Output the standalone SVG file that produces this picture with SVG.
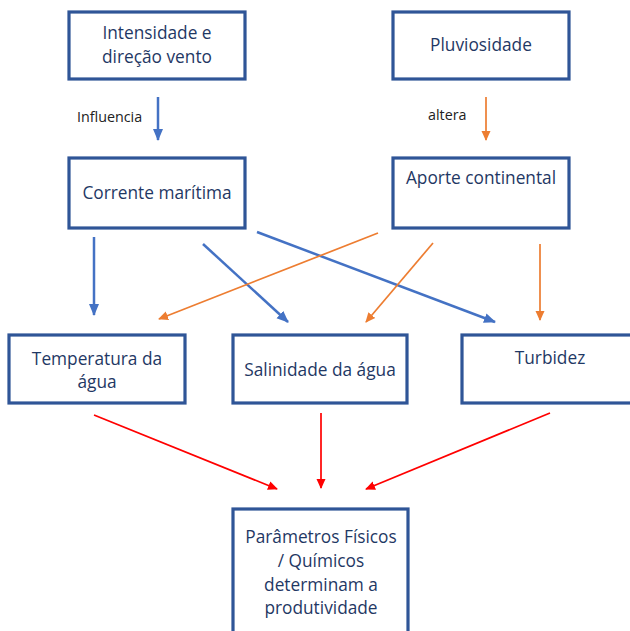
<svg xmlns="http://www.w3.org/2000/svg" width="630" height="631" viewBox="0 0 630 631">
<style>
.box{fill:#fff;stroke:#2F5597;stroke-width:3.2}
.t{font-family:"Open Sans","Liberation Sans",sans-serif;font-size:17.3px;fill:#1F3864;text-anchor:middle}
.lbl{font-family:"Open Sans","Liberation Sans",sans-serif;font-size:14.3px;fill:#222}
.b{stroke:#4472C4;stroke-width:2.5;fill:none}
.o{stroke:#ED7D31;stroke-width:1.7;fill:none}
.r{stroke:#FF0000;stroke-width:1.7;fill:none}
</style>
<defs>
<marker id="ab" markerUnits="userSpaceOnUse" markerWidth="12" markerHeight="12" viewBox="0 0 12 12" refX="11" refY="6" orient="auto"><path d="M0,1 L12,6 L0,11 Z" fill="#4472C4"/></marker>
<marker id="ao" markerUnits="userSpaceOnUse" markerWidth="10" markerHeight="10" viewBox="0 0 10 10" refX="9" refY="5" orient="auto"><path d="M0,0.5 L10,5 L0,9.5 Z" fill="#ED7D31"/></marker>
<marker id="ar" markerUnits="userSpaceOnUse" markerWidth="10" markerHeight="10" viewBox="0 0 10 10" refX="9" refY="5" orient="auto"><path d="M0,0.5 L10,5 L0,9.5 Z" fill="#FF0000"/></marker>
</defs>
<rect width="630" height="631" fill="#fff"/>
<g id="connectors">
<line class="b" x1="158" y1="97" x2="158" y2="140" marker-end="url(#ab)"/>
<line class="o" x1="486" y1="97" x2="486" y2="140" marker-end="url(#ao)"/>
<line class="b" x1="94" y1="237" x2="94" y2="315" marker-end="url(#ab)"/>
<line class="b" x1="203" y1="244" x2="288" y2="322" marker-end="url(#ab)"/>
<line class="b" x1="257" y1="232" x2="495" y2="322" marker-end="url(#ab)"/>
<line class="o" x1="378" y1="233" x2="159" y2="319" marker-end="url(#ao)"/>
<line class="o" x1="433" y1="243" x2="366" y2="322" marker-end="url(#ao)"/>
<line class="o" x1="540" y1="244" x2="540" y2="320" marker-end="url(#ao)"/>
<line class="r" x1="94" y1="415" x2="277" y2="489" marker-end="url(#ar)"/>
<line class="r" x1="321" y1="413" x2="321" y2="488" marker-end="url(#ar)"/>
<line class="r" x1="550" y1="413" x2="366" y2="489" marker-end="url(#ar)"/>
<text class="lbl" x="77" y="122">Influencia</text>
<text class="lbl" x="428" y="120">altera</text>
</g>
<g id="vento"><rect class="box" x="69" y="12" width="176" height="67"/><text class="t" x="157" y="39">Intensidade e</text><text class="t" x="157" y="63">direção vento</text></g>
<g id="pluviosidade"><rect class="box" x="393" y="12" width="176" height="67"/><text class="t" x="481" y="51">Pluviosidade</text></g>
<g id="corrente"><rect class="box" x="69" y="158" width="176" height="70"/><text class="t" x="157" y="199">Corrente marítima</text></g>
<g id="aporte"><rect class="box" x="393" y="158" width="176" height="70"/><text class="t" x="481" y="184">Aporte continental</text></g>
<g id="temperatura"><rect class="box" x="9" y="335" width="176" height="68"/><text class="t" x="97" y="365">Temperatura  da</text><text class="t" x="97" y="388">água</text></g>
<g id="salinidade"><rect class="box" x="233" y="335" width="174" height="68"/><text class="t" x="320" y="376">Salinidade da água</text></g>
<g id="turbidez"><rect class="box" x="462" y="335" width="176" height="68"/><text class="t" x="550" y="364">Turbidez</text></g>
<g id="parametros"><rect class="box" x="233" y="509" width="175" height="140"/><text class="t" x="321" y="543">Parâmetros Físicos</text><text class="t" x="321" y="567">/ Químicos</text><text class="t" x="321" y="591">determinam a</text><text class="t" x="321" y="614">produtividade</text></g>
</svg>
